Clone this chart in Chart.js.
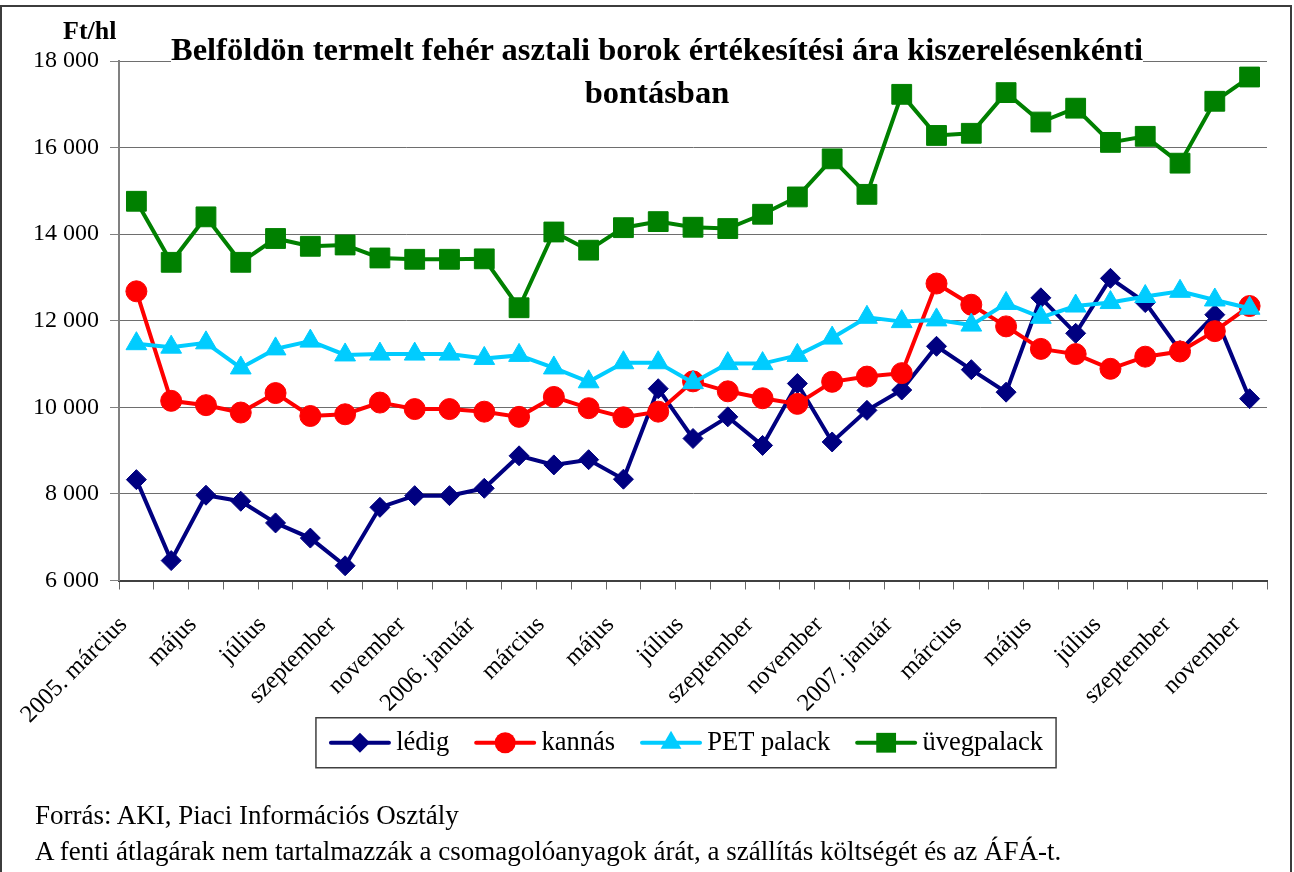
<!DOCTYPE html>
<html lang="hu">
<head>
<meta charset="utf-8">
<title>Belföldön termelt fehér asztali borok értékesítési ára</title>
<script src="https://cdn.jsdelivr.net/npm/chart.js@4.4.1/dist/chart.umd.min.js"></script>
<style>
  html, body { margin: 0; padding: 0; background: #fff; }
  body { width: 1294px; height: 872px; position: relative; overflow: hidden; font-family: "Liberation Serif", "Times New Roman", serif; color: #000; }
  #keret { position: absolute; left: 0; top: 5px; width: 1288px; height: 900px; border: 2px solid #3c3c3c; }
  #grafikon { position: absolute; left: 0; top: 0; }
  .cim { position: absolute; left: 157px; top: 28px; width: 1000px; text-align: center; font-weight: bold; font-size: 32.5px; line-height: 43px; white-space: nowrap; }
  .cim span { background: #fff; }
  .egyseg { position: absolute; left: 63px; top: 16px; font-weight: bold; font-size: 26px; line-height: 30px; }
  .forras { position: absolute; left: 35px; top: 797px; font-size: 27px; line-height: 36px; white-space: nowrap; }
</style>
</head>
<body>
<div id="keret"></div>
<canvas id="grafikon" width="1294" height="872"></canvas>
<div class="egyseg">Ft/hl</div>
<div class="cim"><span>Belföldön termelt fehér asztali borok értékesítési ára kiszerelésenkénti</span><br><span>bontásban</span></div>
<div class="forras">Forrás: AKI, Piaci Információs Osztály<br>A fenti átlagárak nem tartalmazzák a csomagolóanyagok árát, a szállítás költségét és az ÁFÁ-t.</div>
<script>
// hónapok: 2005. március – 2007. november
const honapok = [
  "2005. március", "április", "május", "június", "július", "augusztus", "szeptember", "október", "november", "december",
  "2006. január", "február", "március", "április", "május", "június", "július", "augusztus", "szeptember", "október", "november", "december",
  "2007. január", "február", "március", "április", "május", "június", "július", "augusztus", "szeptember", "október", "november"
];

// Ft/hl, leolvasott értékek
const ledig = [8330, 6460, 7970, 7830, 7330, 6980, 6340, 7690, 7960, 7960, 8130, 8880, 8670, 8790, 8340, 10430,
  9280, 9780, 9120, 10550, 9200, 9930, 10400, 11410, 10870, 10350, 12530, 11710, 12980, 12420, 11310, 12140, 10200];
const kannas = [12680, 10150, 10050, 9880, 10330, 9800, 9840, 10110, 9960, 9960, 9900, 9780, 10240, 9980, 9770, 9900,
  10600, 10370, 10210, 10080, 10590, 10710, 10790, 12860, 12370, 11870, 11350, 11230, 10890, 11170, 11290, 11760, 12340];
const petPalack = [11470, 11390, 11490, 10910, 11350, 11530, 11210, 11230, 11230, 11230, 11130, 11200, 10910, 10590, 11030, 11030,
  10570, 11010, 11010, 11200, 11600, 12080, 11980, 12020, 11900, 12400, 12080, 12340, 12420, 12560, 12680, 12480, 12290];
const uvegpalack = [14760, 13350, 14400, 13350, 13900, 13720, 13750, 13450, 13420, 13420, 13430, 12300, 14050, 13630, 14150, 14290,
  14160, 14130, 14460, 14860, 15740, 14920, 17230, 16280, 16330, 17270, 16590, 16910, 16120, 16260, 15640, 17070, 17630];

const yOsztas = [6000, 8000, 10000, 12000, 14000, 16000, 18000];

const betu = '"Liberation Serif", "Times New Roman", serif';

function ezres(v) {
  return String(v).replace(/\B(?=(\d{3})+(?!\d))/g, ' ');
}

// jelölők rajzolása a jelmagyarázathoz
function jelolo(ctx, forma, x, y, r) {
  ctx.beginPath();
  if (forma === 'circle') {
    ctx.arc(x, y, r, 0, Math.PI * 2);
  } else if (forma === 'rectRot') {
    ctx.moveTo(x, y - r); ctx.lineTo(x + r, y); ctx.lineTo(x, y + r); ctx.lineTo(x - r, y);
  } else if (forma === 'triangle') {
    ctx.moveTo(x, y - r);
    ctx.lineTo(x + r * Math.sin(Math.PI * 2 / 3), y - r * Math.cos(Math.PI * 2 / 3));
    ctx.lineTo(x + r * Math.sin(Math.PI * 4 / 3), y - r * Math.cos(Math.PI * 4 / 3));
  } else {
    const h = r * Math.SQRT1_2;
    ctx.rect(x - h, y - h, 2 * h, 2 * h);
  }
  ctx.closePath();
  ctx.fill();
}

const jelmagyarazat = {
  id: 'jelmagyarazat',
  // a feliratok alatt hagyunk helyet, a jelmagyarázatot visszahúzzuk
  afterLayout(chart) {
    const lg = chart.legend;
    if (!lg) return;
    lg.top -= 26; lg.bottom -= 26;
    lg.left -= 7; lg.right -= 7;
  },
  afterDraw(chart) {
    const lg = chart.legend;
    if (!lg || !lg.legendHitBoxes || !lg.legendHitBoxes.length) return;
    const ctx = chart.ctx;
    const dobozok = lg.legendHitBoxes;
    ctx.save();
    dobozok.forEach((b, i) => {
      const ds = chart.data.datasets[lg.legendItems[i].datasetIndex];
      const y = b.top + b.height / 2;
      ctx.strokeStyle = ds.borderColor;
      ctx.fillStyle = ds.backgroundColor;
      ctx.lineWidth = 4;
      ctx.lineCap = 'round';
      ctx.beginPath();
      ctx.moveTo(b.left + 2, y);
      ctx.lineTo(b.left + 60, y);
      ctx.stroke();
      jelolo(ctx, ds.pointStyle, b.left + 31, y, ds.pointRadius);
    });
    const elso = dobozok[0], utolso = dobozok[dobozok.length - 1];
    const kozep = elso.top + elso.height / 2;
    ctx.strokeStyle = '#404040';
    ctx.lineWidth = 1.5;
    ctx.strokeRect(elso.left - 13, kozep - 25, utolso.left + utolso.width - elso.left + 26, 50);
    ctx.restore();
  }
};

function sorozat(nev, adat, szin, forma, meret, sorrend) {
  return {
    label: nev,
    data: adat,
    borderColor: szin,
    backgroundColor: szin,
    borderWidth: 4,
    pointStyle: forma,
    pointRadius: meret,
    pointHoverRadius: meret,
    pointBorderWidth: 1,
    pointBorderColor: szin,
    pointBackgroundColor: szin,
    tension: 0,
    order: sorrend
  };
}

new Chart(document.getElementById('grafikon'), {
  type: 'line',
  data: {
    labels: honapok,
    datasets: [
      sorozat('lédig', ledig, '#000080', 'rectRot', 10, 3),
      sorozat('kannás', kannas, '#ff0000', 'circle', 10.5, 2),
      sorozat('PET palack', petPalack, '#00ccff', 'triangle', 12, 1),
      sorozat('üvegpalack', uvegpalack, '#008000', 'rect', 14, 0)
    ]
  },
  options: {
    responsive: false,
    devicePixelRatio: 1,
    animation: false,
    layout: { padding: { top: 61, left: 33, right: 27, bottom: 80 } },
    plugins: {
      tooltip: { enabled: false },
      legend: {
        position: 'bottom',
        fullSize: false,
        labels: {
          font: { family: betu, size: 26.5 },
          color: '#000',
          boxWidth: 54,
          padding: 25,
          generateLabels(chart) {
            return chart.data.datasets.map((ds, i) => ({
              text: ds.label,
              datasetIndex: i,
              fillStyle: 'rgba(0,0,0,0)',
              strokeStyle: 'rgba(0,0,0,0)',
              lineWidth: 0,
              fontColor: '#000',
              hidden: false
            }));
          }
        }
      }
    },
    scales: {
      x: {
        offset: true,
        afterFit(s) { s.height = 150; },
        grid: { offset: true, drawOnChartArea: false, drawTicks: true, tickLength: 9, tickColor: '#666' },
        border: { color: '#404040', width: 2 },
        ticks: {
          autoSkip: false,
          minRotation: 45,
          maxRotation: 45,
          padding: 21,
          labelOffset: -13,
          color: '#000',
          font: { family: betu, size: 24.5 },
          callback(v, i) { return i % 2 === 0 ? this.getLabelForValue(v) : ''; }
        }
      },
      y: {
        min: 6000,
        max: 18000,
        afterFit(s) { s.width = 86; },
        afterBuildTicks(s) { s.ticks = yOsztas.map(v => ({ value: v })); },
        grid: { color: '#6e6e6e', lineWidth: 1, tickLength: 9, tickColor: '#808080' },
        border: { color: '#808080', width: 2 },
        ticks: {
          padding: 11,
          color: '#000',
          font: { family: betu, size: 24 },
          callback(v) { return ezres(v); }
        }
      }
    }
  },
  plugins: [jelmagyarazat]
});
</script>
</body>
</html>
